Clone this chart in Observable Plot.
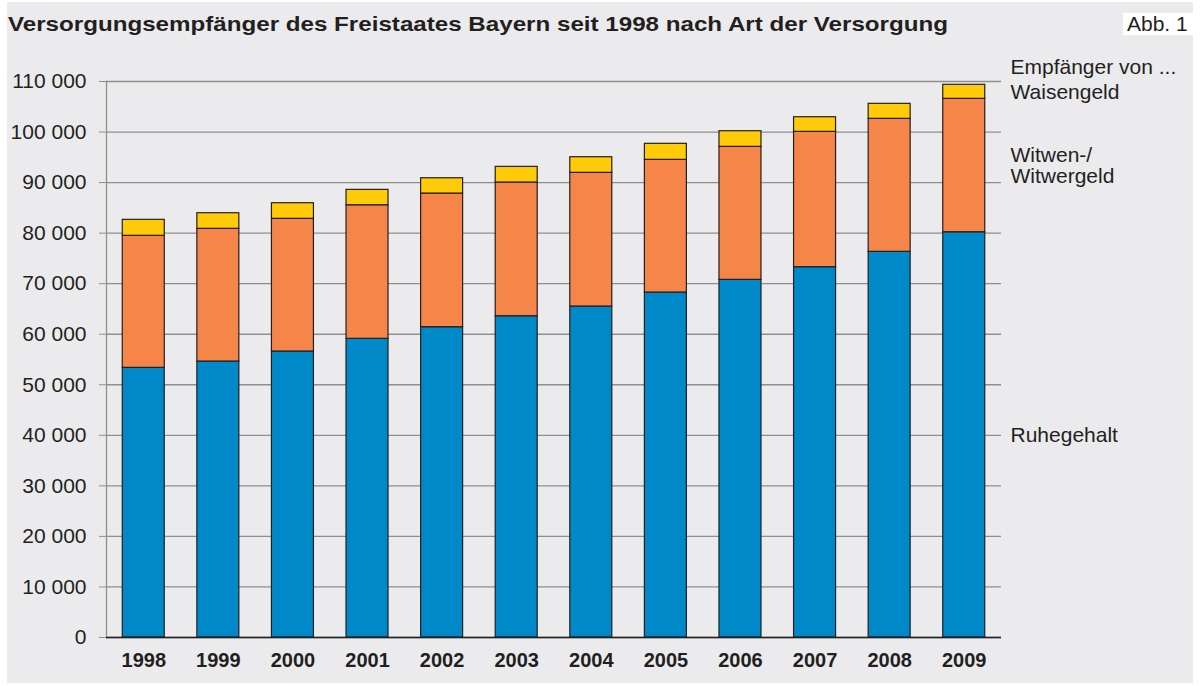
<!DOCTYPE html>
<html>
<head>
<meta charset="utf-8">
<script src="https://cdn.jsdelivr.net/npm/d3@7"></script>
<script src="https://cdn.jsdelivr.net/npm/@observablehq/plot@0.6"></script>
<style>
  body { margin: 0; background: #fff; font-family: "Liberation Sans", Arial, sans-serif; }
  #wrap { position: relative; width: 1200px; height: 686px; overflow: hidden; background: #fff; }
  #panel { position: absolute; left: 7px; top: 2px; width: 1186px; height: 681px; background: #ebebed; }
  #title { position: absolute; left: 8px; top: 12px; font-weight: bold; font-size: 21px; line-height: 24px; color: #231f20; white-space: nowrap; transform: scaleX(1.15); transform-origin: 0 0; }
  #abb { position: absolute; left: 1123px; top: 13px; width: 70px; height: 22px; background: #fff; font-size: 21px; line-height: 22px; color: #231f20; padding-left: 4px; box-sizing: border-box; white-space: nowrap; }
  #chart { position: absolute; left: 0; top: 45px; }
</style>
</head>
<body>
<div id="wrap">
  <div id="panel"></div>
  <div id="title">Versorgungsempfänger des Freistaates Bayern seit 1998 nach Art der Versorgung</div>
  <div id="abb">Abb. 1</div>
  <div id="chart"></div>
</div>
<script>
// ---- Data ----
const years = ["1998","1999","2000","2001","2002","2003","2004","2005","2006","2007","2008","2009"];
const ruhegehalt = [53350, 54600, 56580, 59090, 61390, 63560, 65480, 68250, 70760, 73260, 76300, 80180];
const witwengeld = [26120, 26250, 26250, 26430, 26440, 26450, 26450, 26250, 26310, 26780, 26310, 26390];
const waisengeld = [3160, 3090, 3090, 3040, 3030, 3100, 3090, 3170, 3090, 2890, 2970, 2770];
const seriesNames = ["Ruhegehalt", "Witwen-/\nWitwergeld", "Waisengeld"];
const seriesColors = ["#0089c8", "#f58549", "#ffcb08"];
const yTicks = [0, 10000, 20000, 30000, 40000, 50000, 60000, 70000, 80000, 90000, 100000, 110000];
const legendHeader = "Empfänger von ...";

// ---- Build table ----
const seriesValues = [ruhegehalt, witwengeld, waisengeld];
const rows = years.flatMap((yr, i) => seriesNames.map((s, k) => ({year: yr, type: s, value: seriesValues[k][i]})));

// Series labels at the middle of the last year's segments
const last = years.length - 1;
let acc = 0;
const seriesLabels = seriesNames.map((s, k) => {
  const v = seriesValues[k][last];
  const mid = acc + v / 2;
  acc += v;
  return {label: s, y: mid};
});

const fmt = d => d3.format(",")(d).replace(/,/g, " ");
const ink = "#231f20";
const gridGray = "#8f8f8f";

const chart = Plot.plot({
  width: 1200,
  height: 641,
  marginLeft: 106,
  marginRight: 199,
  marginTop: 36,
  marginBottom: 49,
  style: {fontSize: "20px", fontFamily: "Liberation Sans, Arial, sans-serif", color: ink, background: "transparent", overflow: "visible"},
  x: {type: "band", domain: years, paddingInner: 0.437, paddingOuter: 0.218, round: false, label: null},
  y: {domain: [0, 110000], label: null},
  color: {domain: seriesNames, range: seriesColors},
  marks: [
    Plot.gridY(yTicks, {stroke: gridGray, strokeOpacity: 1, strokeWidth: 1.3}),
    Plot.frame({anchor: "left", stroke: gridGray, strokeWidth: 1.3}),
    Plot.barY(rows, {x: "year", y: "value", fill: "type", stroke: ink, strokeWidth: 1.2}),
    Plot.ruleY([0], {stroke: ink, strokeWidth: 1.6}),
    Plot.axisY({ticks: yTicks, tickSize: 7, tickPadding: 13, tickFormat: fmt, stroke: gridGray, strokeOpacity: 1, fill: ink, fontSize: 21, label: null}),
    Plot.axisX({tickSize: 0, tickPadding: 15, fontWeight: "bold", fill: ink, label: null}),
    Plot.text(seriesLabels, {y: "y", text: "label", frameAnchor: "right", dx: 9, textAnchor: "start", lineAnchor: "middle", lineHeight: 1.0, fontSize: 21, fill: ink}),
    Plot.text([legendHeader], {frameAnchor: "top-right", dx: 9, dy: -14, textAnchor: "start", lineAnchor: "middle", fontSize: 21, fill: ink})
  ]
});
document.getElementById("chart").appendChild(chart);
</script>
</body>
</html>
